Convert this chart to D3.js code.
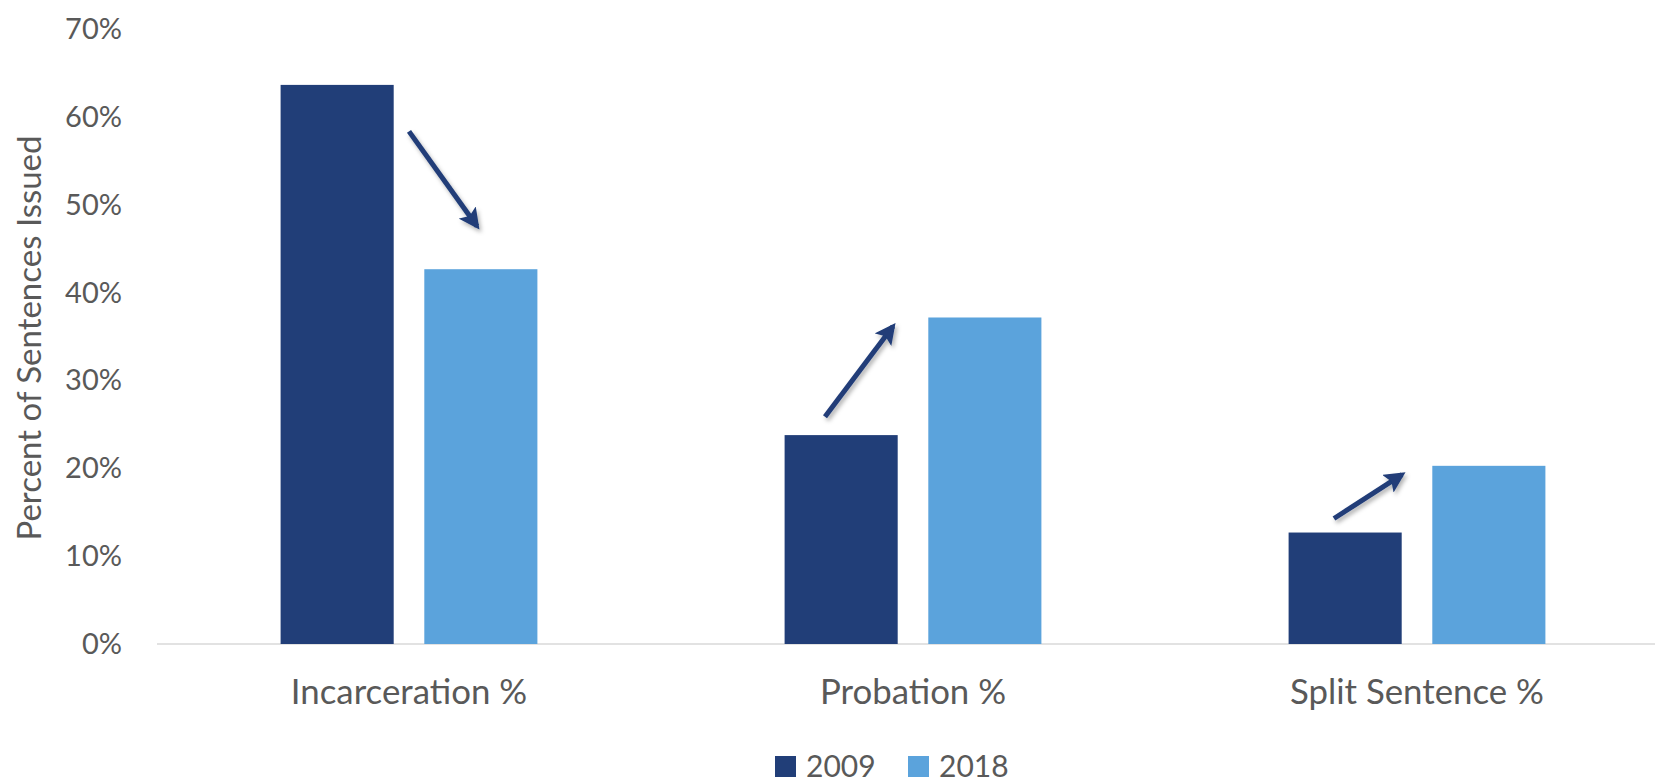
<!DOCTYPE html>
<html><head><meta charset="utf-8">
<script src="https://cdn.jsdelivr.net/npm/d3@7/dist/d3.min.js"></script>
<style>
html,body{margin:0;padding:0;background:#fff;overflow:hidden;}
svg{display:block;font-family:Lato,"Open Sans",sans-serif;}
</style></head><body>
<svg id="c" width="1655" height="784"></svg>
<script>
const categories = ["Incarceration %", "Probation %", "Split Sentence %"];
const seriesNames = ["2009", "2018"];
const values2009 = [63.7, 23.8, 12.7];
const values2018 = [42.7, 37.2, 20.3];
const yTicks = [0, 10, 20, 30, 40, 50, 60, 70];
const yTitle = "Percent of Sentences Issued";
// arrow annotations: start / end values (percent)
const arrowStart = [58.4, 25.9, 14.3];
const arrowEnd = [47.6, 36.2, 19.3];

const colors = {"2009": "#213E78", "2018": "#5BA3DC"};
const textColor = "#595959";

const W = 1655, H = 784;
const svg = d3.select("#c");
const defs = svg.append("defs");
const f = defs.append("filter").attr("id","sh").attr("x","-20%").attr("y","-20%").attr("width","140%").attr("height","140%");
f.append("feDropShadow").attr("dx",2).attr("dy",3).attr("stdDeviation",2).attr("flood-color","#000").attr("flood-opacity",0.3);
defs.append("marker").attr("id","ah").attr("viewBox","0 0 10 10").attr("refX",8).attr("refY",5)
  .attr("markerWidth",4.2).attr("markerHeight",4.2).attr("orient","auto").attr("markerUnits","strokeWidth")
  .append("path").attr("d","M0,0 L10,5 L0,10 L2,5 Z").attr("fill","#203D78");

const x = d3.scaleBand().domain(categories).range([157, 1669]).paddingInner(0).paddingOuter(0);
const xs = d3.scaleBand().domain(seriesNames).range([-128.4, 128.4]).paddingInner(0.213).paddingOuter(0);
const y = d3.scaleLinear().domain([0, 70]).range([644, 29.6]);

// baseline
svg.append("line").attr("x1", 157).attr("x2", W).attr("y1", y(0)).attr("y2", y(0))
  .attr("stroke", "#D9D9D9").attr("stroke-width", 1.5);

// y axis
const yAxis = d3.axisLeft(y).tickValues(yTicks).tickFormat(d => d + "%").tickSize(0).tickPadding(35);
const ga = svg.append("g").attr("transform", "translate(157,0)").call(yAxis);
ga.select(".domain").remove();
ga.selectAll("text").attr("fill", textColor).style("font-size", "29px").style("font-family","Lato");

// axis title
svg.append("text").attr("transform", `translate(41,338) rotate(-90)`).attr("text-anchor", "middle")
  .attr("fill", textColor).style("font-size", "33px").text(yTitle);

// bars
const data = categories.map((c, i) => ({c, vals: [{s: "2009", v: values2009[i]}, {s: "2018", v: values2018[i]}]}));
const g = svg.append("g");
data.forEach(d => {
  const cx = x(d.c) + x.bandwidth() / 2;
  g.selectAll(null).data(d.vals).enter().append("rect")
    .attr("x", v => cx + xs(v.s)).attr("width", xs.bandwidth())
    .attr("y", v => y(v.v)).attr("height", v => y(0) - y(v.v))
    .attr("fill", v => colors[v.s]);
});

// category labels
svg.append("g").selectAll("text").data(categories).enter().append("text")
  .attr("x", c => x(c) + x.bandwidth() / 2).attr("y", 704).attr("text-anchor", "middle")
  .attr("fill", textColor).style("font-size", "34.8px").text(c => c);

// arrows (offsets in px from category centre)
const arrowDx = [[0, 68], [-88, -20], [-83, -15]];
categories.forEach((c, i) => {
  const cx = x(c) + x.bandwidth() / 2;
  svg.append("line")
    .attr("x1", cx + arrowDx[i][0]).attr("y1", y(arrowStart[i]))
    .attr("x2", cx + arrowDx[i][1]).attr("y2", y(arrowEnd[i]))
    .attr("stroke", "#203D78").attr("stroke-width", 5).attr("marker-end", "url(#ah)")
    .attr("filter", "url(#sh)");
});

// legend
const leg = svg.append("g");
const legX = [775, 908];
seriesNames.forEach((s, i) => {
  leg.append("rect").attr("x", legX[i]).attr("y", 756).attr("width", 21).attr("height", 21).attr("fill", colors[s]);
  leg.append("text").attr("x", legX[i] + 31).attr("y", 777).attr("fill", textColor)
    .style("font-size", "30px").text(s);
});
</script>
</body></html>
